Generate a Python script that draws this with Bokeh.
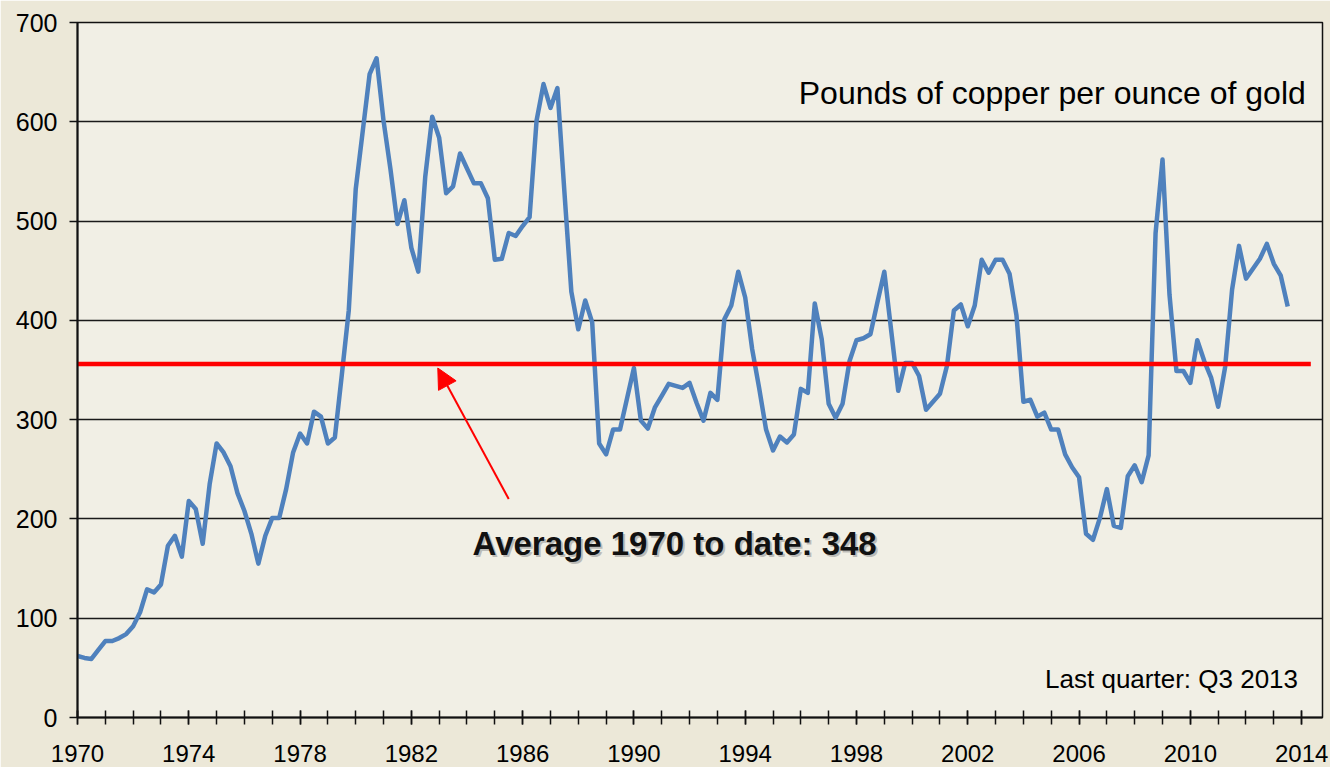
from bokeh.plotting import figure
from bokeh.models import FixedTicker, Label, Arrow, NormalHead
from bokeh.embed import file_html
from bokeh.resources import INLINE

# ---- data -------------------------------------------------------------
start_year = 1970
# Pounds of copper per ounce of gold, quarterly from Q1 1970 to Q3 2013
copper_per_gold = [
    62, 60, 59, 68, 77, 77, 80, 84, 92, 106,
    129, 126, 134, 173, 183, 162, 218, 210, 175, 235,
    276, 267, 253, 226, 208, 185, 155, 183, 201, 201,
    230, 267, 286, 276, 308, 303, 276, 282, 345, 410,
    532, 590, 648, 664, 601, 552, 497, 521, 473, 449,
    545, 605, 584, 528, 535, 568, 553, 538, 538, 523,
    461, 462, 488, 485, 495, 504, 601, 638, 614, 634,
    530, 429, 391, 420, 398, 276, 265, 290, 290, 321,
    352, 299, 291, 312, 324, 336, 334, 332, 337, 317,
    299, 327, 320, 401, 415, 449, 423, 371, 332, 290,
    269, 283, 277, 285, 331, 327, 417, 381, 316, 302,
    316, 359, 380, 382, 386, 418, 449, 389, 329, 357,
    357, 344, 310, 318, 326, 354, 410, 416, 394, 415,
    461, 448, 461, 461, 447, 405, 318, 320, 303, 307,
    290, 290, 265, 252, 242, 185, 179, 201, 230, 193,
    191, 243, 254, 237, 264, 488, 562, 426, 349, 349,
    337, 380, 359, 342, 313, 353, 431, 475, 442, 452,
    462, 477, 457, 445, 414,
]
quarter_x = [start_year + i / 4 for i in range(len(copper_per_gold))]

average_level = 356          # where the red average line is drawn
average_text = "Average 1970 to date: 348"
average_x = [1970, 2014.33]

arrow_start = (1985.5, 220)
arrow_end = (1982.95, 352)

x_label_years = list(range(1970, 2015, 4))
x_tick_years = list(range(1970, 2015, 1))
y_ticks = [0, 100, 200, 300, 400, 500, 600, 700]

title_text = "Pounds of copper per ounce of gold"
note_text = "Last quarter: Q3 2013"

FONT = "Liberation Sans"

# ---- figure -----------------------------------------------------------
p = figure(
    frame_width=1245, frame_height=695,
    x_range=(1970, 2014.75), y_range=(0, 700),
    output_backend="svg", toolbar_location=None,
    min_border_left=77, min_border_top=22,
    min_border_right=8, min_border_bottom=50,
)
p.background_fill_color = "#F1EFE5"
p.border_fill_color = "#ECE8D8"
p.outline_line_color = "#111111"
p.outline_line_width = 1.5

p.xgrid.visible = False
p.ygrid.ticker = FixedTicker(ticks=y_ticks)
p.ygrid.grid_line_color = "#1a1a1a"
p.ygrid.grid_line_width = 1.3

xa = p.xaxis[0]
xa.ticker = FixedTicker(ticks=x_label_years, minor_ticks=x_tick_years)
xa.major_tick_in = 7
xa.major_tick_out = 7
xa.minor_tick_in = 7
xa.minor_tick_out = 7
xa.major_tick_line_width = 1.5
xa.minor_tick_line_width = 1.5
xa.major_tick_line_color = "#111111"
xa.minor_tick_line_color = "#111111"
xa.axis_line_width = 2
xa.axis_line_color = "#111111"
xa.major_label_text_font = FONT
xa.major_label_text_font_size = "24px"
xa.major_label_text_color = "black"
xa.major_label_standoff = 20

ya = p.yaxis[0]
ya.ticker = FixedTicker(ticks=y_ticks)
ya.major_tick_in = 0
ya.major_tick_out = 8
ya.minor_tick_line_color = None
ya.major_tick_line_width = 1.5
ya.major_tick_line_color = "#111111"
ya.axis_line_width = 2
ya.axis_line_color = "#111111"
ya.major_label_text_font = FONT
ya.major_label_text_font_size = "25px"
ya.major_label_text_color = "black"
ya.major_label_standoff = 12

# ---- series -----------------------------------------------------------
p.line(quarter_x, copper_per_gold, line_color="#4F81BD", line_width=4.5,
       line_join="round")
p.line(average_x, [average_level, average_level], line_color="#FF0000",
       line_width=4.5)

p.add_layout(Arrow(
    end=NormalHead(size=20, fill_color="#FF0000", line_color="#FF0000"),
    x_start=arrow_start[0], y_start=arrow_start[1],
    x_end=arrow_end[0], y_end=arrow_end[1],
    line_color="#FF0000", line_width=2,
))

# ---- texts ------------------------------------------------------------
p.add_layout(Label(x=1984.2, y=175, text=average_text, text_font=FONT,
                   text_font_size="33px", text_font_style="bold",
                   text_color="#999999", text_alpha=0.6,
                   x_offset=2, y_offset=-2, text_baseline="alphabetic"))
p.add_layout(Label(x=1984.2, y=175, text=average_text, text_font=FONT,
                   text_font_size="33px", text_font_style="bold",
                   text_color="#111111", text_baseline="alphabetic"))

p.add_layout(Label(x=2014.15, y=629, text=title_text, text_font=FONT,
                   text_font_size="32px", text_color="black",
                   text_align="right", text_baseline="alphabetic"))

p.add_layout(Label(x=2013.87, y=38.5, text=note_text, text_font=FONT,
                   text_font_size="26px", text_color="black",
                   text_align="right", text_baseline="alphabetic"))

open("out.html", "w").write(file_html(p, INLINE))
